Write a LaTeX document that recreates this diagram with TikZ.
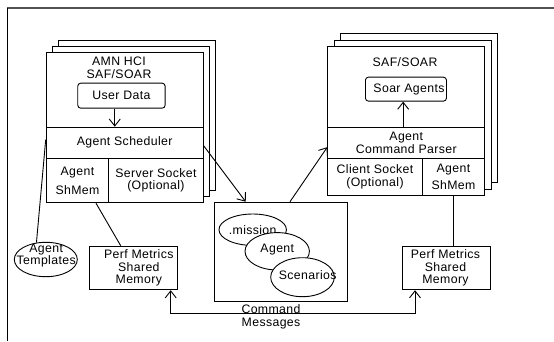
\documentclass[tikz,border=0pt]{standalone}
\usepackage{fontspec}
\setmainfont{Liberation Sans}[LetterSpace=3]
\usetikzlibrary{arrows.meta,shapes.geometric,calc}
\tikzset{
  ln/.style={line width=0.9pt, draw=black},
  cell/.style={ln, fill=white, inner sep=0pt, align=center, anchor=north west},
  rbox/.style={cell, rounded corners=3pt},
  oval/.style={ellipse, ln, fill=white, inner sep=0pt, align=center},
  txt/.style={inner sep=0pt, align=center},
  arr/.style={ln, -{Straight Barb[length=7pt,width=11pt]}},
  biarr/.style={ln, {Straight Barb[length=7pt,width=11pt]}-{Straight Barb[length=7pt,width=11pt]}},
  every node/.style={font=\fontsize{12.3}{12.4}\selectfont}
}
\begin{document}
\begin{tikzpicture}[x=1pt,y=-1pt]
\useasboundingbox (0,0) rectangle (554,341);

% outer frame (top and left edges)
\draw[line width=1.8pt, draw=black!68] (7.3,7.6) -- (554,7.6);
\draw[line width=0.9pt] (7.8,7.6) -- (7.8,341);

% ---- left stack: AMN HCI SAF/SOAR ----
\node[cell, minimum width=157pt, minimum height=150.6pt] (lback) at (57.7,39.7) {};
\node[cell, minimum width=157pt, minimum height=150.6pt] (lmid)  at (51.7,45.7) {};
\node[cell, minimum width=157pt, minimum height=150.6pt] (lfront) at (45.7,51.7) {};
\node[txt] (ltitle) at (119,67.8) {AMN HCI\\SAF/SOAR};
\node[rbox, minimum width=87.4pt, minimum height=25pt] (udata) at (77.3,82.7) {User Data};
\node[cell, minimum width=157pt, minimum height=31pt] (lsched) at (45.7,126.7) {Agent Scheduler};
\node[cell, minimum width=62.6pt, minimum height=44.6pt] (lshm) at (45.7,157.7) {Agent\\[6.5pt]ShMem};
\node[cell, minimum width=94.4pt, minimum height=44.6pt] (lsock) at (108.3,157.7) {Server Socket\\(Optional)};

% ---- right stack: SAF/SOAR ----
\node[cell, minimum width=157pt, minimum height=149pt] (rback) at (340.3,33) {};
\node[cell, minimum width=157pt, minimum height=149pt] (rmid)  at (333.8,39.5) {};
\node[cell, minimum width=157pt, minimum height=149pt] (rfront) at (327.3,46) {};
\node[txt] (rtitle) at (405,61.7) {SAF/SOAR};
\node[rbox, minimum width=81pt, minimum height=24pt] (sagents) at (365,76.7) {};
\node[txt] (sagentst) at (409,89) {Soar Agents};
\node[cell, minimum width=157pt, minimum height=31pt] (rparse) at (327.3,126.7) {Agent\\Command Parser};
\node[cell, minimum width=94.4pt, minimum height=37.3pt] (rsock) at (327.3,157.7) {Client Socket\\(Optional)};
\node[cell, minimum width=62.6pt, minimum height=37.3pt] (rshm) at (421.7,157.7) {Agent\\[5pt]ShMem};

% ---- mission / agent / scenario files ----
\node[cell, minimum width=133pt, minimum height=99.3pt] (mid) at (214.3,201.7) {};
\node[oval, minimum width=63.4pt, minimum height=31.4pt] (emis) at (252.7,229.7) {.mission};
\node[oval, minimum width=64.4pt, minimum height=37.4pt] (eag) at (277.2,251.3) {};
\node[txt] (eagt) at (277.3,249.3) {Agent};
\node[oval, minimum width=63.6pt, minimum height=39pt] (esc) at (302.5,277.2) {};
\node[txt] (esct) at (307.7,274.6) {Scenarios};

% ---- shared memory and templates ----
\node[cell, minimum width=88pt, minimum height=43.6pt] (pmL) at (89.3,245.7) {};
\node[txt] (pmLt) at (138.8,268) {Perf Metrics\\Shared\\Memory};
\node[cell, minimum width=88pt, minimum height=43.6pt] (pmR) at (402.3,245.7) {};
\node[txt] (pmRt) at (445.5,268) {Perf Metrics\\Shared\\Memory};
\node[oval, minimum width=63pt, minimum height=34.4pt] (tmpl) at (45.8,259.5) {};
\node[txt] (tmplt) at (46.2,255.5) {Agent\\Templates};

% ---- connectors ----
\draw[arr] ([xshift=-6.7pt]udata.south) -- ([xshift=-6.7pt]udata.south |- lsched.north);
\draw[arr] ([xshift=-2.8pt]sagents.south |- rparse.north) -- ([xshift=-2.8pt]sagents.south);
\draw[arr] ([yshift=-3pt]lsched.east) -- ($(mid.north west)+(31.4,0)$);
\draw[arr] ($(mid.north west)+(75.7,0)$) -- ([yshift=-4.5pt]rparse.west);
\draw[ln] (tmpl.119) -- ([yshift=3pt]lsched.west);
\draw[ln] ($(lshm.south west)+(50.3,0)$) -- ($(pmL.north west)+(31.4,0)$);
\draw[ln] (rshm.south) -- (rshm.south |- pmR.north);

\coordinate (cmdL) at (170.7,313.3);
\coordinate (cmdR) at (415,313.3);
\draw[biarr] (pmL.south -| cmdL) -- (cmdL) -- (cmdR) -- (pmR.south -| cmdR);
\node[txt] (cmdt) at (271,317) {Command\\Messages};
\end{tikzpicture}
\end{document}
